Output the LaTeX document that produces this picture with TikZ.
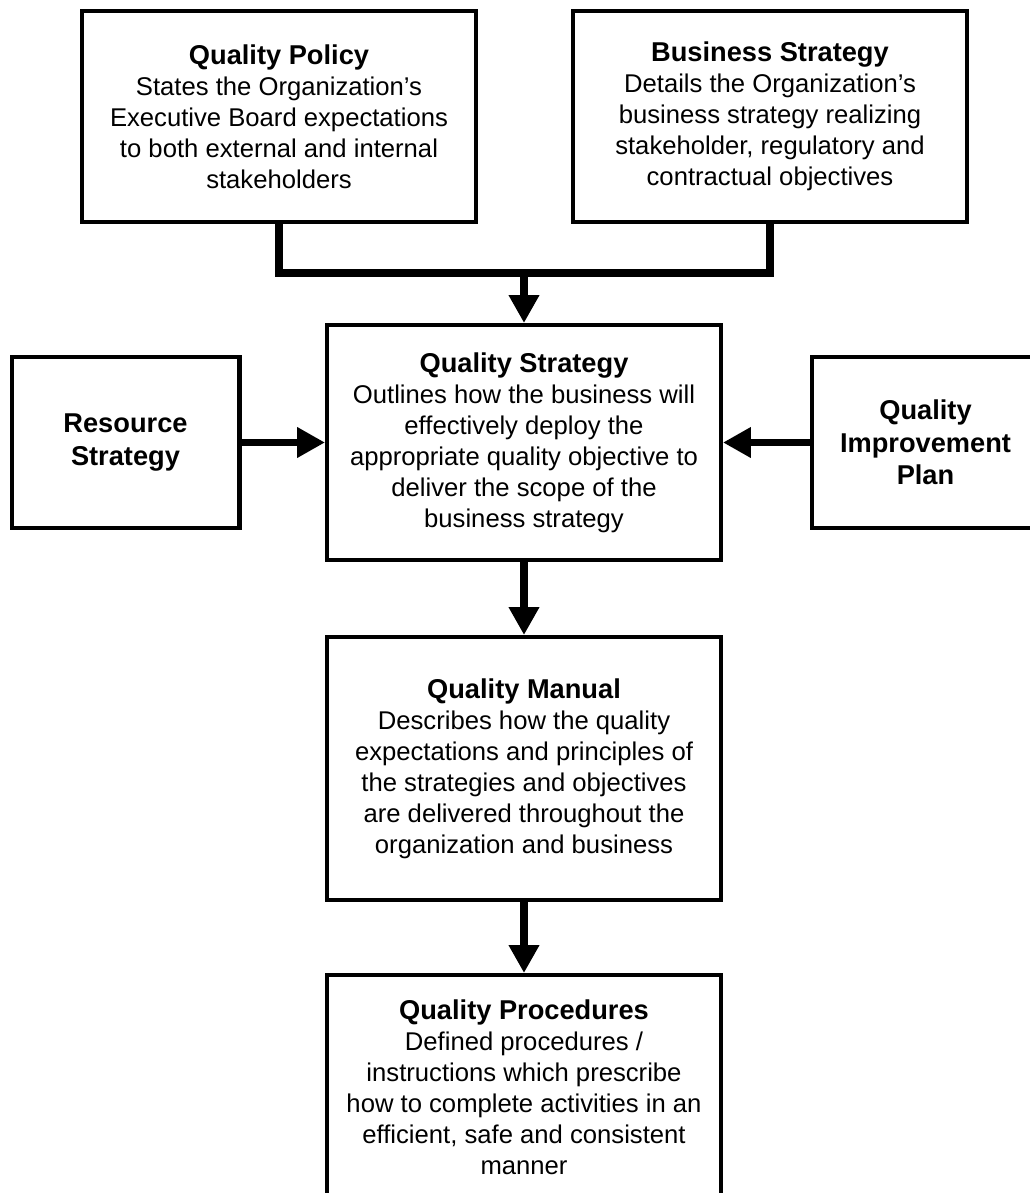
\documentclass[tikz,border=0pt]{standalone}
\usepackage{fontspec}
\setmainfont{Liberation Sans}
\usepackage{tikz}
\usetikzlibrary{arrows.meta, positioning}

\newcommand{\hd}[1]{{\fontsize{15.5}{18.5}\selectfont\bfseries #1}}

\begin{document}
\begin{tikzpicture}[
    x=0.02cm, y=-0.02cm,
    box/.style={draw, line width=2.3pt, align=center, inner sep=0pt,
        minimum width=7.88cm, font=\fontsize{14.6}{17.6}\selectfont},
    side/.style={box, minimum width=4.56cm, minimum height=3.42cm,
        font=\fontsize{15.5}{18.5}\selectfont\bfseries},
    link/.style={line width=4.2pt},
    arrow/.style={link, -{Triangle[width=0.58cm, length=0.56cm]}}
]
    \clip (0,0) rectangle (1030,1193);

    % policy and business strategy
    \node[box, minimum height=4.22cm] (qp) at (279,116.5) {\hd{Quality Policy}\\
        States the Organization’s\\ Executive Board expectations\\
        to both external and internal\\ stakeholders};
    \node[box, minimum height=4.22cm] (bs) at (770,116.5) {\hd{Business Strategy}\\
        Details the Organization’s\\ business strategy realizing\\
        stakeholder, regulatory and\\ contractual objectives};

    % quality strategy with its inputs
    \node[box, minimum height=4.7cm] (qs) at (524,442.5) {\hd{Quality Strategy}\\
        Outlines how the business will\\ effectively deploy the\\
        appropriate quality objective to\\ deliver the scope of the\\
        business strategy};
    \node[side] (rs) at (125.5,442.5) {Resource\\ Strategy};
    \node[side] (qip) at (925.5,442.5) {Quality\\ Improvement\\ Plan};

    % manual and procedures
    \node[box, minimum height=5.26cm] (qm) at (524,768.5) {\hd{Quality Manual}\\
        Describes how the quality\\ expectations and principles of\\
        the strategies and objectives\\ are delivered throughout the\\
        organization and business};
    \node[box, minimum height=4.48cm] (qpr) at (524,1087) {\hd{Quality Procedures}\\
        Defined procedures /\\ instructions which prescribe\\
        how to complete activities in an\\ efficient, safe and consistent\\
        manner};

    % connectors
    \coordinate (join) at (524,273);
    \draw[link] (qp.south) |- (join) -| (bs.south);
    \draw[arrow] (join) -- (qs.north);
    \draw[arrow] (rs.east) -- (qs.west);
    \draw[arrow] (qip.west) -- (qs.east);
    \draw[arrow] (qs.south) -- (qm.north);
    \draw[arrow] (qm.south) -- (qpr.north);
\end{tikzpicture}
\end{document}
